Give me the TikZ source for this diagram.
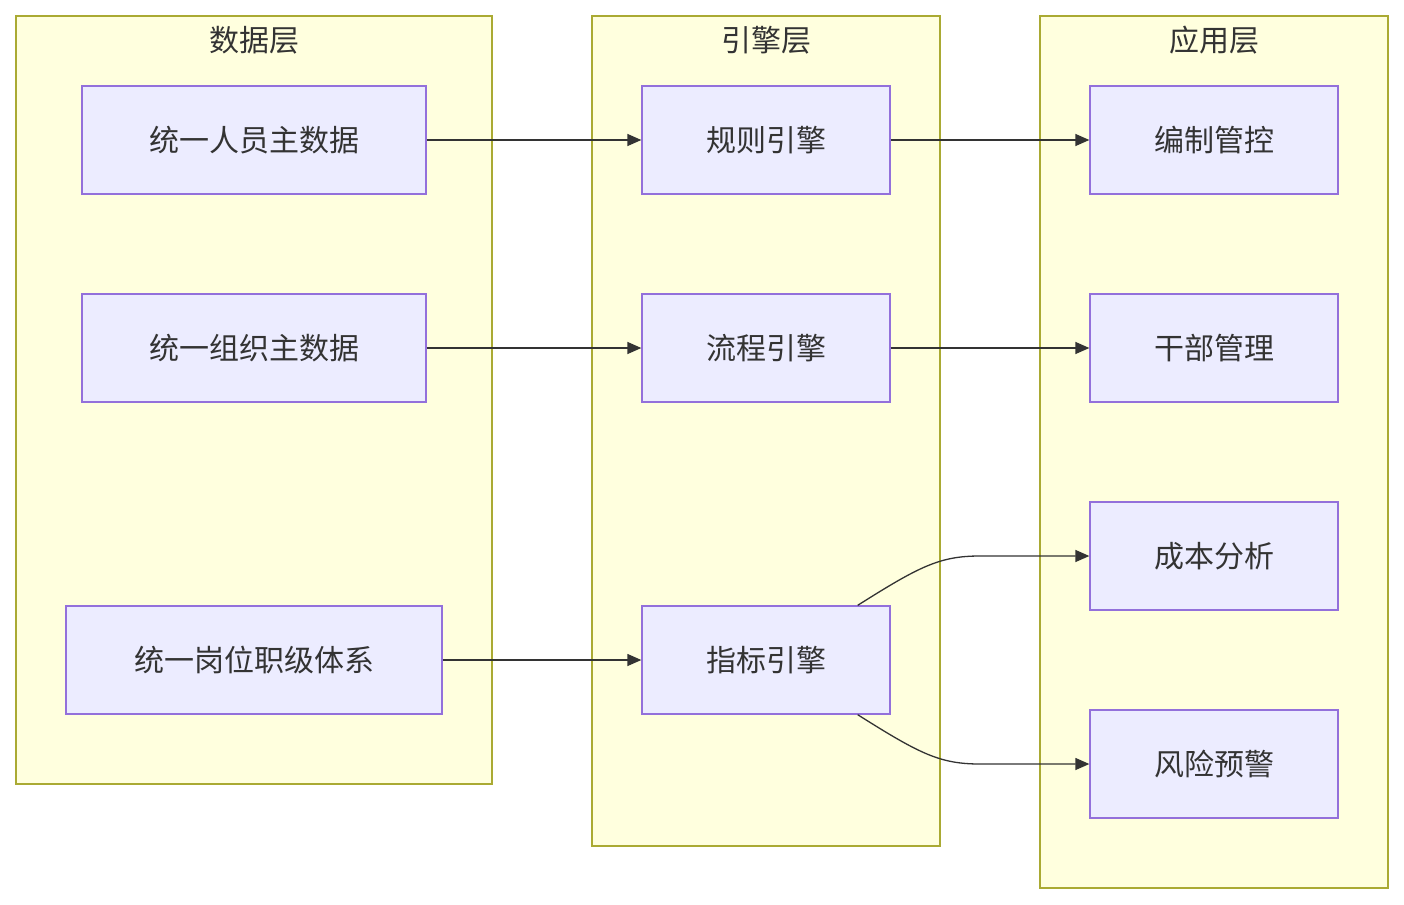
\documentclass[tikz,border=0pt]{standalone}
\usepackage{fontspec}
\newfontfamily\cjk{Noto Sans CJK SC}
\usetikzlibrary{arrows.meta}
\definecolor{grpfill}{HTML}{FFFFDE}
\definecolor{grpdraw}{HTML}{AAAA33}
\definecolor{nfill}{HTML}{ECECFF}
\definecolor{ndraw}{HTML}{9370DB}
\definecolor{edge}{HTML}{333333}
\begin{document}
\begin{tikzpicture}[x=1pt,y=-1pt,
 grp/.style={draw=grpdraw,fill=grpfill,line width=1.3pt},
 gtitle/.style={font=\cjk\fontsize{30}{36}\selectfont,text=edge},
 box/.style={draw=ndraw,fill=nfill,line width=1.3pt,font=\cjk\fontsize{30}{36}\selectfont,text=edge,inner sep=0pt},
 arr/.style={draw=edge,line width=1.3pt,-{Triangle[length=14pt,width=12pt]}}]
\useasboundingbox (0,0) rectangle (1404,904);
\draw[grp] (16,16) rectangle (492,784);
\draw[grp] (592,16) rectangle (940,846);
\draw[grp] (1040,16) rectangle (1388,888);
\node[gtitle] (t1) at (254,40) {数据层};
\node[gtitle] (t2) at (766,40) {引擎层};
\node[gtitle] (t3) at (1214,40) {应用层};
\node[box,minimum width=344pt,minimum height=108pt] (d1) at (254,140) {统一人员主数据};
\node[box,minimum width=344pt,minimum height=108pt] (d2) at (254,348) {统一组织主数据};
\node[box,minimum width=376pt,minimum height=108pt] (d3) at (254,660) {统一岗位职级体系};
\node[box,minimum width=248pt,minimum height=108pt] (e1) at (766,140) {规则引擎};
\node[box,minimum width=248pt,minimum height=108pt] (e2) at (766,348) {流程引擎};
\node[box,minimum width=248pt,minimum height=108pt] (e3) at (766,660) {指标引擎};
\node[box,minimum width=248pt,minimum height=108pt] (a1) at (1214,140) {编制管控};
\node[box,minimum width=248pt,minimum height=108pt] (a2) at (1214,348) {干部管理};
\node[box,minimum width=248pt,minimum height=108pt] (a3) at (1214,556) {成本分析};
\node[box,minimum width=248pt,minimum height=108pt] (a4) at (1214,764) {风险预警};
\draw[arr] (d1) -- (e1);
\draw[arr] (d2) -- (e2);
\draw[arr] (d3) -- (e3);
\draw[arr] (e1) -- (a1);
\draw[arr] (e2) -- (a2);
\draw[arr] ([xshift=-33pt]e3.north east) .. controls (920,566) and (940,556) .. (980,556) -- (a3.west);
\draw[arr] ([xshift=-33pt]e3.south east) .. controls (920,754) and (940,764) .. (980,764) -- (a4.west);
\end{tikzpicture}
\end{document}
